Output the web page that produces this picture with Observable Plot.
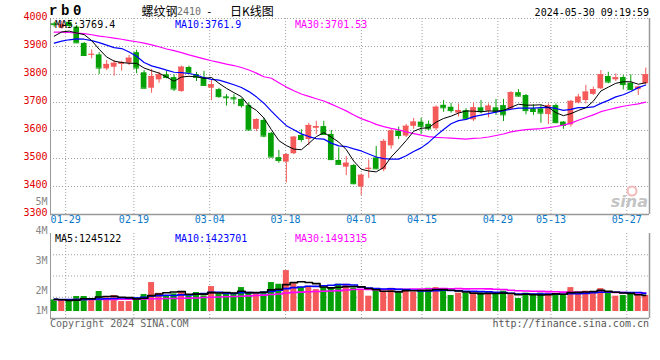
<!DOCTYPE html>
<html>
<head>
<meta charset="utf-8">
<script src="https://cdn.jsdelivr.net/npm/d3@7"></script>
<script src="https://cdn.jsdelivr.net/npm/@observablehq/plot@0.6"></script>
<style>
  html,body{margin:0;padding:0;background:#fff;}
  #chart{position:relative;width:660px;height:360px;overflow:hidden;background:#fff;}
  #chart > svg{position:absolute;left:0;top:0;}
</style>
</head>
<body>
<div id="chart"></div>
<script>
// ---------------- data ----------------
const dates = ["01-25","01-26","01-29","01-30","01-31","02-01","02-02","02-05","02-06","02-07","02-08",
"02-19","02-20","02-21","02-22","02-23","02-26","02-27","02-28","02-29","03-01",
"03-04","03-05","03-06","03-07","03-08","03-11","03-12","03-13","03-14","03-15",
"03-18","03-19","03-20","03-21","03-22","03-25","03-26","03-27","03-28","03-29",
"04-01","04-02","04-03","04-08","04-09","04-10","04-11","04-12",
"04-15","04-16","04-17","04-18","04-19","04-22","04-23","04-24","04-25","04-26",
"04-29","04-30","05-06","05-07","05-08","05-09","05-10",
"05-13","05-14","05-15","05-16","05-17","05-20","05-21","05-22","05-23","05-24",
"05-27","05-28","05-29","05-30"];

const opens = [3981,3966,3986,3969,3911,3870,3870,3820,3826,3836,
 3840,3878,3806,3751,3781,3799,3789,3739,3825,3800,
 3788,3751,3746,3720,3717,3711,3689,3604,3636,3590,
 3503,3487,3517,3582,3568,3608,3614,3586,3493,3469,
 3475,3398,3461,3502,3460,3545,3598,3580,3615,3630,
 3622,3606,3690,3683,3662,3671,3638,3681,3669,3681,
 3689,3675,3735,3725,3677,3677,3657,3689,3630,3620,
 3698,3707,3729,3749,3793,3781,3789,3769,3746,3767];
const highs = [3987,3990,3993,3975,3914,3888,3878,3850,3850,3847,
 3868,3887,3814,3818,3808,3811,3799,3830,3830,3808,
 3811,3779,3751,3728,3728,3713,3699,3642,3644,3593,
 3529,3517,3579,3603,3626,3633,3633,3600,3538,3507,
 3479,3445,3495,3543,3568,3605,3612,3622,3643,3644,
 3634,3688,3707,3697,3695,3678,3698,3707,3695,3711,
 3711,3739,3746,3729,3692,3689,3695,3695,3632,3707,
 3729,3761,3755,3814,3808,3802,3796,3799,3758,3823];
const lows = [3969,3962,3968,3911,3864,3856,3800,3814,3794,3812,
 3832,3803,3749,3733,3769,3785,3739,3737,3801,3775,
 3758,3707,3715,3687,3692,3680,3598,3596,3574,3504,
 3483,3413,3514,3558,3546,3585,3585,3493,3475,3439,
 3406,3368,3429,3461,3453,3533,3568,3575,3604,3586,
 3600,3600,3665,3662,3648,3636,3632,3660,3645,3654,
 3632,3671,3719,3656,3654,3626,3621,3624,3604,3612,
 3695,3695,3725,3746,3767,3775,3745,3743,3725,3764];
const closes = [3978,3978,3975,3913,3868,3872,3823,3836,3840,3843,
 3858,3823,3751,3793,3799,3789,3748,3826,3806,3790,
 3761,3764,3721,3717,3713,3689,3602,3639,3580,3505,
 3493,3514,3576,3568,3618,3614,3586,3496,3479,3483,
 3410,3440,3465,3463,3561,3598,3582,3615,3630,3615,
 3606,3683,3681,3671,3671,3642,3681,3668,3687,3668,
 3656,3735,3723,3671,3668,3662,3689,3628,3618,3704,
 3719,3737,3746,3799,3773,3788,3764,3746,3755,3799];
const volumes = [915000,862000,862000,1179000,1179000,915000,1575000,1074000,1258000,783000,
 783000,1074000,1338000,2279000,1434000,1232000,1390000,1496000,1232000,1496000,
 1232000,1962000,1390000,1390000,1338000,1883000,1434000,1390000,1540000,2279000,
 2147000,3221000,2174000,1883000,1989000,1725000,1883000,1830000,2147000,2147000,
 1857000,1725000,1206000,1602000,1602000,1830000,1470000,1725000,1522000,1725000,
 1830000,1883000,1654000,1258000,1443000,1443000,1443000,1470000,1338000,1390000,
 1602000,1311000,1021000,1443000,1258000,1443000,1443000,1338000,1338000,1883000,
 1522000,1602000,1522000,1804000,1470000,1206000,1258000,1390000,1258000,1258000];

// moving-average values before each window is full
const ma5Lead  = [3937,3952,3955,3948];
const ma10Lead = [3912,3919,3924,3927,3926,3921,3914,3905,3896];
const ma30Lead = [3951,3951,3950,3948,3946,3942,3937,3934,3930,3926,3921,3917,3912,3906,3899,
                  3891,3885,3878,3870,3863,3856,3849,3843,3837,3832,3825,3816,3805,3792];
const volMa5Lead  = [970000,930000,880000,900000];
const volMa10Lead = [960000,950000,940000,940000,950000,960000,980000,1000000,1020000];
const volMa30Lead = [930000,930000,930000,940000,940000,940000,950000,950000,950000,960000,
                     960000,970000,990000,1000000,1010000,1020000,1030000,1040000,1050000,1060000,
                     1100000,1120000,1140000,1160000,1180000,1200000,1230000,1260000,1290000];

const tickLabels = ["01-29","02-19","03-04","03-18","04-01","04-15","04-29","05-13","05-27"];
const priceTicks = [3300,3400,3500,3600,3700,3800,3900,4000];
const volTickValues = [1000000,2000000,3000000,4000000,5000000];
const volTickLabels = ["1M","2M","3M","4M","5M"];
const priceLegend = [["MA5:3769.4","#000"],["MA10:3761.9","#0000ff"],["MA30:3701.53","#ff00ff"]];
const volLegend   = [["MA5:1245122","#000"],["MA10:1423701","#0000ff"],["MA30:1491315","#ff00ff"]];

// ---------------- derived ----------------
const N = dates.length;
const RED = "#f45a5a", GREEN = "#05a005", GRID = "#a0a0a0", AXIS = "#999";
const data = dates.map((d, i) => ({i, date: d, open: opens[i], high: highs[i], low: lows[i], close: closes[i], vol: volumes[i]}));
const col = d => d.close >= d.open ? RED : GREEN;
const movingAvg = (vals, k, lead) => vals.map((v, i) => i < lead.length ? lead[i] : d3.mean(vals.slice(i - k + 1, i + 1)));
const ma5 = movingAvg(closes, 5, ma5Lead), ma10 = movingAvg(closes, 10, ma10Lead), ma30 = movingAvg(closes, 30, ma30Lead);
const vma5 = movingAvg(volumes, 5, volMa5Lead), vma10 = movingAvg(volumes, 10, volMa10Lead), vma30 = movingAvg(volumes, 30, volMa30Lead);
const xDomain = [-0.5, N - 0.5];
// Sina spaces its date grid over N-1 intervals of the same width
const tickPos = tickLabels.map(t => dates.indexOf(t) * N / (N - 1) - 0.5);
const volDomain = [-550000, 6140000];
const volGrid = [1, 2, 3].map(q => volDomain[0] + (volDomain[1] - volDomain[0]) * q / 4);
const MONO = "DejaVu Sans Mono";
const common = {width: 660, height: 360, marginLeft: 50, marginRight: 11,
  x: {domain: xDomain, axis: null}, color: {type: "identity"},
  style: {background: "transparent", overflow: "visible", fontFamily: MONO, fontSize: "10px"}};

const priceChart = Plot.plot({
  ...common, marginTop: 18, marginBottom: 146,
  y: {domain: [3300, 4000], axis: null},
  marks: [
    Plot.ruleY(priceTicks.slice(1), {stroke: GRID, strokeDasharray: "1,2"}),
    Plot.ruleX(tickPos, {y1: 3300, y2: 4000, stroke: GRID, strokeDasharray: "1,2"}),
    Plot.ruleX([xDomain[0]], {y1: 3300, y2: 4000, stroke: AXIS}),
    Plot.ruleX([xDomain[1]], {y1: 3300, y2: 4000, stroke: AXIS, strokeWidth: 1.5}),
    Plot.ruleY([3300], {stroke: AXIS, strokeWidth: 1.5}),
    Plot.ruleX(data, {x: "i", y1: "low", y2: "high", stroke: col}),
    Plot.rect(data, {x1: d => d.i - 0.5, x2: d => d.i + 0.5, y1: "open", y2: "close", fill: col, insetLeft: 0.9, insetRight: 0.9}),
    Plot.ruleY(data, {y: "close", x1: d => d.i - 0.4, x2: d => d.i + 0.4, stroke: col}),
    Plot.line(data, {x: "i", y: (d, i) => ma30[i], stroke: "#ff00ff", strokeWidth: 1.2}),
    Plot.line(data, {x: "i", y: (d, i) => ma10[i], stroke: "#0000ff", strokeWidth: 1.2}),
    Plot.line(data, {x: "i", y: (d, i) => ma5[i], stroke: "#000", strokeWidth: 1}),
    Plot.text(priceTicks, {y: d => d, text: d => String(d), frameAnchor: "left", textAnchor: "end", dx: -3, dy: -2, fill: "#e00000", fontFamily: MONO, fontSize: 10}),
    Plot.text(tickPos, {x: d => d, text: (d, i) => tickLabels[i], frameAnchor: "bottom", dy: 8, fill: "#0a78c8", fontFamily: MONO, fontSize: 10})
  ]
});

const volChart = Plot.plot({
  ...common, marginTop: 233, marginBottom: 42,
  y: {domain: volDomain, axis: null},
  marks: [
    Plot.ruleY(volGrid, {stroke: GRID, strokeDasharray: "1,2"}),
    Plot.ruleX(tickPos, {y1: volDomain[0], y2: volDomain[1], stroke: GRID, strokeDasharray: "1,2"}),
    Plot.ruleX([xDomain[0]], {y1: volDomain[0], y2: volDomain[1], stroke: AXIS}),
    Plot.ruleX([xDomain[1]], {y1: volDomain[0], y2: volDomain[1], stroke: AXIS, strokeWidth: 1.5}),
    Plot.ruleY([volDomain[0]], {stroke: AXIS, strokeWidth: 1.5}),
    Plot.rect(data, {x1: d => d.i - 0.5, x2: d => d.i + 0.5, y1: 0, y2: "vol", fill: col, insetLeft: 0.75, insetRight: 0.75}),
    Plot.line(data, {x: "i", y: (d, i) => vma30[i], stroke: "#ff00ff", strokeWidth: 1.6, curve: "step"}),
    Plot.line(data, {x: "i", y: (d, i) => vma10[i], stroke: "#0000ff", strokeWidth: 1.6, curve: "step"}),
    Plot.line(data, {x: "i", y: (d, i) => vma5[i], stroke: "#000", strokeWidth: 1.6, curve: "step"})
  ]
});

// Sina's volume labels sit on their own spacing, the lowest one pinned to the panel bottom
const volLabels = Plot.plot({
  width: 660, height: 360, marginLeft: 50, marginRight: 11, marginTop: 201, marginBottom: 50,
  y: {domain: [1318000, 5000000], clamp: true, axis: null},
  style: {background: "transparent", overflow: "visible"},
  marks: [
    Plot.text(volTickValues, {y: d => d, text: (d, i) => volTickLabels[i], frameAnchor: "left", textAnchor: "end", dx: -3, fill: "#888", fontFamily: MONO, fontSize: 10})
  ]
});

const host = document.getElementById("chart");
host.append(priceChart, volChart, volLabels);

// ---------------- annotation texts ----------------
const svg = d3.create("svg").attr("width", 660).attr("height", 360);
const T = (x, y, s, o = {}) => svg.append("text").attr("x", x).attr("y", y).text(s)
  .attr("font-family", o.ff || MONO).attr("font-size", o.fs || 10).attr("fill", o.fill || "#000")
  .attr("text-anchor", o.anchor || "start").attr("font-weight", o.fw || "normal")
  .attr("font-style", o.style || "normal").attr("letter-spacing", o.ls || 0);
T(49, 15, "rb0", {ff: "Liberation Mono", fs: 14, fw: "bold", ls: 3.6});
T(141.5, 15.5, "螺纹钢", {ff: "Noto Sans CJK SC", fs: 12});
T(177, 14.5, "2410", {fill: "#6e6e6e"});
T(206, 15, "-", {ff: MONO, fs: 11});
T(230, 15.5, "日K线图", {ff: "Noto Sans CJK SC", fs: 12});
T(649, 16, "2024-05-30 09:19:59", {anchor: "end"});
priceLegend.forEach(([s, c], k) => T(55 + 120 * k, 28, s, {fill: c}));
volLegend.forEach(([s, c], k) => T(55 + 120 * k, 241.5, s, {fill: c}));
T(50, 326.5, "Copyright 2024 SINA.COM", {fill: "#666"});
T(649, 326.5, "http://finance.sina.com.cn", {fill: "#555", anchor: "end"});
// sina watermark
svg.append("circle").attr("cx", 632).attr("cy", 191).attr("r", 4.5).attr("fill", "none").attr("stroke", "#f3b8b8").attr("stroke-width", 2);
T(648, 207, "sina", {ff: "DejaVu Sans", fs: 16, fw: "bold", style: "italic", fill: "#c4c4c4", anchor: "end"});
host.append(svg.node());
</script>
</body>
</html>
